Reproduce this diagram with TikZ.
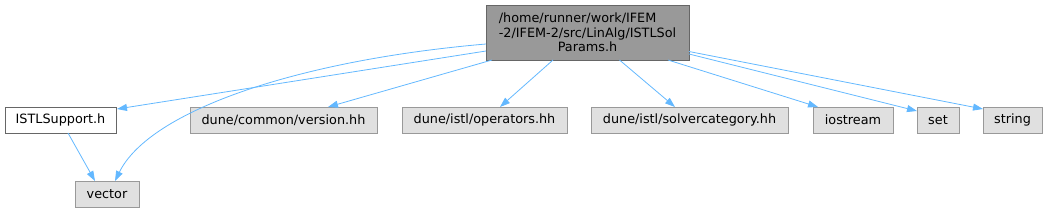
\documentclass[tikz,border=0pt]{standalone}
\usepackage{fontspec}
\setmainfont{DejaVu Sans}
\usetikzlibrary{arrows.meta,calc}
\definecolor{edgeblue}{HTML}{63B8FF}
\definecolor{rootfill}{HTML}{999999}
\definecolor{darkborder}{HTML}{666666}
\definecolor{sysfill}{HTML}{E0E0E0}
\definecolor{sysborder}{HTML}{999999}
\begin{document}
\begin{tikzpicture}[x=1pt,y=1pt,
  every node/.style={font=\fontsize{12.8}{14.5}\selectfont, inner sep=0pt, outer sep=0pt, text=black},
  filebox/.style={draw=sysborder, fill=sysfill, line width=0.9pt, minimum height=26pt},
  localbox/.style={draw=darkborder, fill=white, line width=0.9pt, minimum height=26pt},
  rootbox/.style={draw=darkborder, fill=rootfill, line width=0.9pt, minimum height=55pt, minimum width=203pt, align=center},
  edge/.style={draw=edgeblue, line width=0.8pt, -{Triangle[length=10pt,width=7pt,fill=edgeblue]}}
]
\useasboundingbox (0,0) rectangle (1047,-212);
\node[rootbox] (root) at (587.5,-32.5) {\makebox[0pt][l]{/home/runner/work/IFEM}\phantom{-2/IFEM-2/src/LinAlg/ISTLSol}\\-2/IFEM-2/src/LinAlg/ISTLSol\\Params.h};
\node[localbox, minimum width=111pt] (istl) at (60.5,-120) {ISTLSupport.h};
\node[filebox, minimum width=64pt] (vector) at (107,-194) {vector};
\node[filebox, minimum width=187pt] (version) at (283.5,-120) {dune/common/version.hh};
\node[filebox, minimum width=165pt] (operators) at (484.5,-120) {dune/istl/operators.hh};
\node[filebox, minimum width=197pt] (solver) at (689.5,-120) {dune/istl/solvercategory.hh};
\node[filebox, minimum width=80pt] (iostream) at (853,-120) {iostream};
\node[filebox, minimum width=42pt] (set) at (938,-120) {set};
\node[filebox, minimum width=59pt] (string) at (1012.5,-120) {string};

\draw[edge] ($(root.south west)+(0,9)$) -- ($(istl.north east)+(1,-2)$);
\draw[edge] ($(root.south west)+(0,16)$) .. controls (300,-60) and (150,-110) .. ($(vector.north)+(8,0)$);
\draw[edge] ($(root.south west)+(6,0)$) -- ($(version.north)+(44.5,0)$);
\draw[edge] ($(root.south)+(-34.5,0)$) -- ($(operators.north)+(15.5,0)$);
\draw[edge] ($(root.south)+(32,0)$) -- ($(solver.north)+(-14.5,0)$);
\draw[edge] ($(root.south east)+(-21,0)$) -- ($(iostream.north west)+(5,0)$);
\draw[edge] ($(root.south east)+(0,6)$) -- ($(set.north west)+(0,-4)$);
\draw[edge] ($(root.south east)+(0,8.5)$) -- ($(string.north west)+(0,-2)$);
\draw[edge] ($(istl.south)+(7.5,0)$) -- ($(vector.north)+(-12,0)$);
\end{tikzpicture}
\end{document}
